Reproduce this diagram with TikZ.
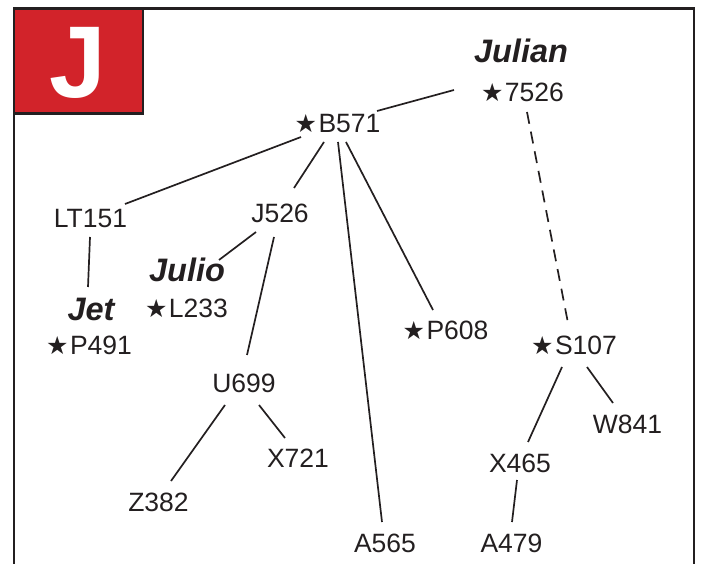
\documentclass[tikz,border=0pt]{standalone}
\usepackage{fontspec}
\setmainfont{Liberation Sans}
\newfontfamily\starfont{DejaVu Sans}
\definecolor{jred}{RGB}{210,35,42}
\definecolor{ink}{RGB}{35,31,32}
\newcommand\stx{{\starfont\fontsize{25}{28}\selectfont ★}\kern1.5pt}
\begin{document}
\begin{tikzpicture}[x=1pt,y=-1pt,
  lbl/.style={anchor=base, inner sep=0pt, font=\fontsize{26.5}{30}\selectfont, text=ink},
  pname/.style={anchor=base, inner sep=0pt, font=\fontsize{32.5}{36}\selectfont\bfseries\itshape, text=ink},
  edge/.style={draw=ink, line width=1.7pt},
  dedge/.style={draw=ink, line width=1.7pt, dash pattern=on 12pt off 8pt},
]
\useasboundingbox (0,0) rectangle (702,564);
% frame
\draw[ink, line width=2.5pt, line join=miter] (14,566) -- (14,8.5) -- (694,8.5) -- (694,566);
\filldraw[fill=jred, draw=ink, line width=2.5pt] (14,8.5) rectangle (143,113.5);
\node[anchor=base, font=\fontsize{102}{102}\selectfont\bfseries, text=white, inner sep=0pt] (bigj) at (78,98) {J};

% names
\node[pname] (julian) at (521,63) {Julian};
\node[pname] (julio) at (187,282) {Julio};
\node[pname] (jet) at (91,320) {Jet};

% labels
\node[lbl] (s7526) at (522.5,102) {\stx 7526};
\node[lbl] (b571) at (337.5,133) {\stx B571};
\node[lbl] (lt151) at (90.5,228) {LT151};
\node[lbl] (j526) at (280,223) {J526};
\node[lbl] (l233) at (186.5,317) {\stx L233};
\node[lbl] (p491) at (89,355) {\stx P491};
\node[lbl] (p608) at (445.5,340) {\stx P608};
\node[lbl] (s107) at (574,355) {\stx S107};
\node[lbl] (w841) at (627.5,433) {W841};
\node[lbl] (x465) at (520,472) {X465};
\node[lbl] (u699) at (244,392) {U699};
\node[lbl] (x721) at (298,467) {X721};
\node[lbl] (z382) at (158.5,511) {Z382};
\node[lbl] (a565) at (385,552) {A565};
\node[lbl] (a479) at (511.5,552) {A479};

% connectors
\draw[edge] ([shift={(-68.5,-12)}]s7526.base) -- ([shift={(39.5,-22)}]b571.base);
\draw[dedge] ([shift={(4.5,10)}]s7526.base) -- ([shift={(-6,-32)}]s107.base);
\draw[edge] ([shift={(-36.5,4)}]b571.base) -- ([shift={(34.5,-24)}]lt151.base);
\draw[edge] ([shift={(-13.5,9)}]b571.base) -- ([shift={(14,-35)}]j526.base);
\draw[edge] ([shift={(0.5,9)}]b571.base) -- ([shift={(-3,-30)}]a565.base);
\draw[edge] ([shift={(8.5,9)}]b571.base) -- ([shift={(-12.5,-30)}]p608.base);
\draw[edge] ([shift={(-24,9)}]j526.base) -- ([shift={(32,-22)}]julio.base);
\draw[edge] ([shift={(-6,14)}]j526.base) -- ([shift={(3,-37)}]u699.base);
\draw[edge] ([shift={(-0.5,9)}]lt151.base) -- ([shift={(-3,-33)}]jet.base);
\draw[edge] ([shift={(-19,13)}]u699.base) -- ([shift={(12.5,-30)}]z382.base);
\draw[edge] ([shift={(15,13)}]u699.base) -- ([shift={(-13,-29)}]x721.base);
\draw[edge] ([shift={(-12,12)}]s107.base) -- ([shift={(8,-30)}]x465.base);
\draw[edge] ([shift={(13,12)}]s107.base) -- ([shift={(-14.5,-30)}]w841.base);
\draw[edge] ([shift={(-3,8)}]x465.base) -- ([shift={(0.5,-30)}]a479.base);
\end{tikzpicture}
\end{document}
